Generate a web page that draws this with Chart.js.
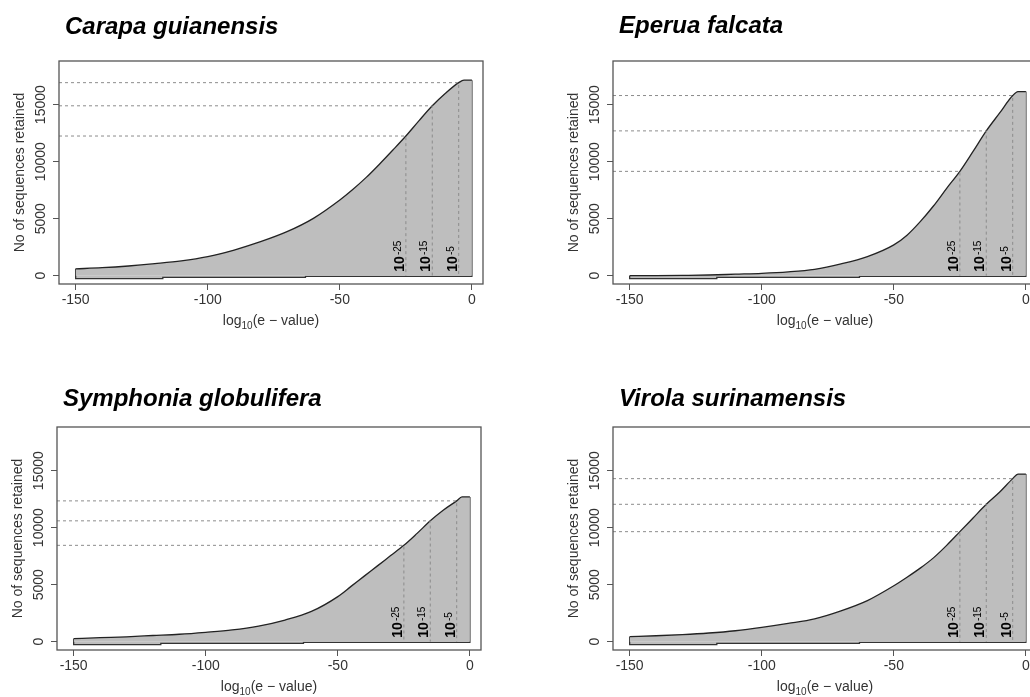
<!DOCTYPE html>
<html lang="en">
<head>
    <meta charset="UTF-8">
    <title>Sequences retained by e-value cutoff</title>
    <script src="https://cdn.jsdelivr.net/npm/chart.js"></script>
    <style>
        html, body { margin: 0; padding: 0; width: 1030px; height: 697px; overflow: hidden; background: #fff; }
        .panel { position: absolute; width: 554px; height: 366px; }
    </style>
</head>
<body>
    <div class="panel" style="left:0;top:0"><canvas id="p0" width="554" height="366"></canvas></div>
    <div class="panel" style="left:554px;top:0"><canvas id="p1" width="554" height="366"></canvas></div>
    <div class="panel" style="left:-2px;top:366px"><canvas id="p2" width="554" height="366"></canvas></div>
    <div class="panel" style="left:554px;top:366px"><canvas id="p3" width="554" height="366"></canvas></div>
    <script>
        // log10(e-value) positions
        const eValue = [-150, -140, -130, -120, -110, -100, -90, -80, -70, -60, -50, -45, -40, -35, -30, -25, -20, -15, -10, -5, -3, 0];

        // sequences retained at each log10(e-value)
        const carapa    = [600, 700, 850, 1050, 1290, 1670, 2250, 2980, 3860, 5030, 6640, 7580, 8620, 9780, 11000, 12250, 13600, 14900, 16000, 16930, 17150, 17150];
        const eperua    = [0, 10, 30, 60, 130, 200, 330, 560, 1030, 1670, 2700, 3550, 4740, 6110, 7660, 9150, 10900, 12700, 14250, 15800, 16150, 16150];
        const symphonia = [260, 350, 430, 540, 650, 820, 1030, 1370, 1900, 2650, 3950, 4850, 5750, 6650, 7550, 8450, 9500, 10600, 11550, 12350, 12700, 12700];
        const virola    = [440, 520, 620, 760, 960, 1250, 1600, 2000, 2700, 3600, 4900, 5650, 6450, 7350, 8450, 9650, 10850, 12050, 13100, 14300, 14700, 14700];

        // lower edge of the polygon, from -150 to 0
        const bottomX = [-150, -117, -117, -63, -63, 0];
        const bottomY = [-250, -250, -150, -150, -60, -60];

        const species = ['Carapa guianensis', 'Eperua falcata', 'Symphonia globulifera', 'Virola surinamensis'];
        const series = [carapa, eperua, symphonia, virola];

        const xTicks = [-150, -100, -50, 0];
        const yTicks = [0, 5000, 10000, 15000];
        const cutoffs = [-25, -15, -5];
        const cutoffExp = ['-25', '-15', '-5'];

        const FONT = '"Liberation Sans", Arial, Helvetica, sans-serif';
        const X_MIN = -156.3, X_MAX = 4.2;
        const Y_MIN = -730, Y_MAX = 18830;
        const titleY = [34, 33, 40, 40];
        const GREY = '#bebebe';

        Chart.defaults.font.family = FONT;

        // R-style box, rotated labels and the 10^x cutoff tags
        const decorations = {
            id: 'decorations',
            afterDraw(chart, args, opts) {
                const { ctx, chartArea: a, scales: { x, y } } = chart;
                ctx.save();

                ctx.strokeStyle = '#555';
                ctx.lineWidth = 1.3;
                ctx.strokeRect(a.left, a.top, a.right - a.left, a.bottom - a.top);

                ctx.fillStyle = '#000';
                ctx.font = 'italic bold 24px ' + FONT;
                ctx.textAlign = 'left';
                ctx.textBaseline = 'alphabetic';
                ctx.fillText(opts.title, a.left + 6, opts.titleY);

                // y tick labels, parallel to the axis
                ctx.fillStyle = '#333';
                ctx.font = '14px ' + FONT;
                yTicks.forEach(v => {
                    ctx.save();
                    ctx.translate(a.left - 14, y.getPixelForValue(v));
                    ctx.rotate(-Math.PI / 2);
                    ctx.textAlign = 'center';
                    ctx.fillText(String(v), 0, 0);
                    ctx.restore();
                });

                // y axis title
                ctx.save();
                ctx.translate(a.left - 35, (a.top + a.bottom) / 2);
                ctx.rotate(-Math.PI / 2);
                ctx.textAlign = 'center';
                ctx.fillText('No of sequences retained', 0, 0);
                ctx.restore();

                // x axis title: log10(e-value) with subscript
                const big = '14px ' + FONT, small = '10px ' + FONT;
                ctx.font = big;
                const w1 = ctx.measureText('log').width;
                const w3 = ctx.measureText('(e \u2212 value)').width;
                ctx.font = small;
                const w2 = ctx.measureText('10').width;
                const tx = (a.left + a.right) / 2 - (w1 + w2 + w3) / 2;
                const ty = a.bottom + 41;
                ctx.textAlign = 'left';
                ctx.font = big;
                ctx.fillText('log', tx, ty);
                ctx.font = small;
                ctx.fillText('10', tx + w1, ty + 4);
                ctx.font = big;
                ctx.fillText('(e \u2212 value)', tx + w1 + w2, ty);

                // cutoff tags
                ctx.fillStyle = '#000';
                cutoffs.forEach((t, i) => {
                    ctx.save();
                    ctx.translate(x.getPixelForValue(t) - 2, y.getPixelForValue(0) - 4);
                    ctx.rotate(-Math.PI / 2);
                    ctx.textAlign = 'left';
                    ctx.font = 'bold 14px ' + FONT;
                    ctx.fillText('10', 0, 0);
                    const w = ctx.measureText('10').width;
                    ctx.font = '10px ' + FONT;
                    ctx.fillText(cutoffExp[i], w + 1, -3);
                    ctx.restore();
                });

                ctx.restore();
            }
        };

        function makeChart(idx) {
            const counts = series[idx];
            const curve = eValue.map((x, i) => ({ x, y: counts[i] }));

            // left edge, lower edge and right edge of the polygon
            const frame = [{ x: eValue[0], y: counts[0] }]
                .concat(bottomX.map((x, i) => ({ x, y: bottomY[i] })))
                .concat([{ x: eValue[eValue.length - 1], y: counts[counts.length - 1] }]);

            const cutoffSets = cutoffs.map(t => {
                const v = counts[eValue.indexOf(t)];
                return {
                    data: [{ x: X_MIN, y: v }, { x: t, y: v }, { x: t, y: 0 }],
                    borderColor: '#8c8c8c',
                    borderWidth: 1,
                    borderDash: [3, 3],
                    pointRadius: 0,
                    showLine: true,
                    fill: false,
                    order: 0
                };
            });

            new Chart(document.getElementById('p' + idx), {
                type: 'scatter',
                data: {
                    datasets: cutoffSets.concat([{
                        data: curve,
                        showLine: true,
                        borderColor: '#222',
                        borderWidth: 1.3,
                        backgroundColor: GREY,
                        fill: 'origin',
                        pointRadius: 0,
                        cubicInterpolationMode: 'monotone',
                        order: 1
                    }, {
                        data: frame,
                        showLine: true,
                        borderColor: '#333',
                        borderWidth: 1.3,
                        backgroundColor: GREY,
                        fill: 'origin',
                        pointRadius: 0,
                        tension: 0,
                        order: 2
                    }])
                },
                options: {
                    responsive: false,
                    animation: false,
                    layout: { padding: { left: 0, top: 61, right: 71, bottom: 0 } },
                    plugins: {
                        legend: { display: false },
                        tooltip: { enabled: false },
                        decorations: { title: species[idx], titleY: titleY[idx] }
                    },
                    scales: {
                        x: {
                            type: 'linear',
                            position: 'bottom',
                            min: X_MIN,
                            max: X_MAX,
                            afterBuildTicks: s => { s.ticks = xTicks.map(v => ({ value: v })); },
                            afterFit: s => { s.height = 82; },
                            border: { display: false },
                            grid: { drawOnChartArea: false, drawTicks: true, tickLength: 6, color: '#555' },
                            ticks: { color: '#333', font: { size: 14 }, padding: 2, maxRotation: 0, autoSkip: false }
                        },
                        y: {
                            type: 'linear',
                            min: Y_MIN,
                            max: Y_MAX,
                            afterBuildTicks: s => { s.ticks = yTicks.map(v => ({ value: v })); },
                            afterFit: s => { s.width = 59; },
                            border: { display: false },
                            grid: { drawOnChartArea: false, drawTicks: true, tickLength: 6, color: '#555' },
                            ticks: { display: false }
                        }
                    }
                },
                plugins: [decorations]
            });
        }

        species.forEach((s, i) => makeChart(i));
    </script>
</body>
</html>
